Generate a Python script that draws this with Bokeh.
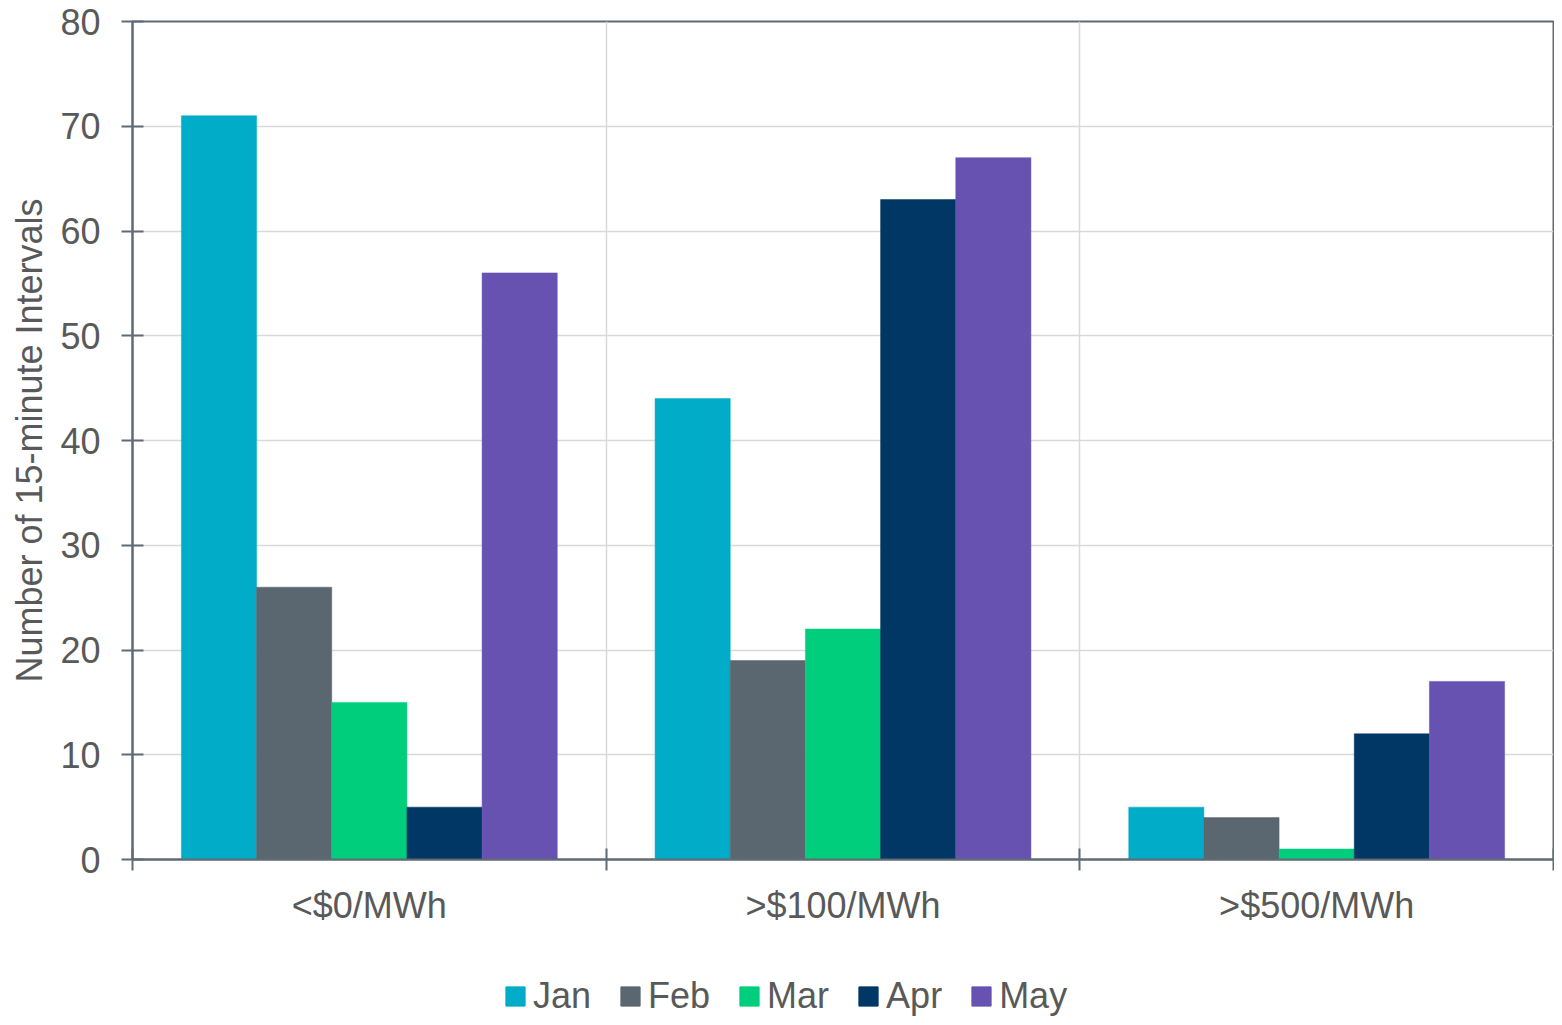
from bokeh.plotting import figure
from bokeh.layouts import column
from bokeh.models import Range1d, FixedTicker, Legend, LegendItem, ColumnDataSource
from bokeh.transform import dodge
from bokeh.embed import file_html
from bokeh.resources import INLINE

categories = ["<$0/MWh", ">$100/MWh", ">$500/MWh"]
months = ["Jan", "Feb", "Mar", "Apr", "May"]
jan = [71, 44, 5]
feb = [26, 19, 4]
mar = [15, 22, 1]
apr = [5, 63, 12]
may = [56, 67, 17]
y_ticks = [0, 10, 20, 30, 40, 50, 60, 70, 80]

colors = ["#00ACC8", "#5B6770", "#00CE7C", "#003764", "#6751B1"]
series = [jan, feb, mar, apr, may]

centers = [i + 0.5 for i in range(len(categories))]
data = {"x": centers}
for m, s in zip(months, series):
    data[m] = s
src = ColumnDataSource(data)

FONT = "Liberation Sans"
TXT = "#595959"
AX = "#5f6b75"

W = 1554
H_MAIN = 940
H_LEG = 77

p = figure(width=W, height=H_MAIN, x_range=Range1d(0, 3), y_range=Range1d(0, 80),
           output_backend="svg", toolbar_location=None,
           min_border_left=132, min_border_right=1, min_border_top=21, min_border_bottom=81)
p.background_fill_color = "white"
p.border_fill_color = "white"
p.outline_line_color = AX
p.outline_line_width = 2

bw = 0.1587
for j, (m, c) in enumerate(zip(months, colors)):
    p.vbar(x=dodge("x", (j - 2) * bw, range=p.x_range), top=m, width=bw, bottom=0,
           source=src, fill_color=c, line_color=c, line_width=0.5)

# y axis
ya = p.yaxis[0]
ya.ticker = FixedTicker(ticks=y_ticks)
ya.major_tick_in = 11
ya.major_tick_out = 11
ya.minor_tick_in = 0
ya.minor_tick_out = 0
ya.axis_line_color = AX
ya.axis_line_width = 2
ya.major_tick_line_color = AX
ya.major_tick_line_width = 2
ya.major_label_text_font = FONT
ya.major_label_text_font_size = "36px"
ya.major_label_text_color = TXT
ya.major_label_standoff = 21
ya.axis_label = "Number of 15-minute Intervals"
ya.axis_label_text_font = FONT
ya.axis_label_text_font_size = "36px"
ya.axis_label_text_font_style = "normal"
ya.axis_label_text_color = TXT
ya.axis_label_standoff = 7

# x axis
xa = p.xaxis[0]
xa.ticker = FixedTicker(ticks=centers, minor_ticks=[0, 1, 2, 3])
xa.major_label_overrides = {c: lab for c, lab in zip(centers, categories)}
xa.major_tick_in = 0
xa.major_tick_out = 0
xa.minor_tick_in = 11
xa.minor_tick_out = 11
xa.minor_tick_line_color = AX
xa.minor_tick_line_width = 2
xa.axis_line_color = AX
xa.axis_line_width = 2
xa.major_label_text_font = FONT
xa.major_label_text_font_size = "36px"
xa.major_label_text_color = TXT
xa.major_label_standoff = 14

# grids
p.xgrid.ticker = FixedTicker(ticks=[1, 2])
p.xgrid.grid_line_color = "#d9d9d9"
p.xgrid.grid_line_width = 1.5
p.ygrid.grid_line_color = "#d9d9d9"
p.ygrid.grid_line_width = 1.5

# legend strip
lg = figure(width=W, height=H_LEG, x_range=Range1d(0, 10), y_range=Range1d(0, 10),
            output_backend="svg", toolbar_location=None, x_axis_type=None, y_axis_type=None,
            min_border_left=0, min_border_right=0, min_border_top=0, min_border_bottom=0)
lg.outline_line_color = None
lg.grid.visible = False
lg.background_fill_color = "white"
lg.border_fill_color = "white"
dummy = ColumnDataSource(dict(x=[-100], top=[0]))
items = []
for m, c in zip(months, colors):
    r = lg.vbar(x="x", top="top", width=1, source=dummy, fill_color=c, line_color=c)
    items.append(LegendItem(label=m, renderers=[r]))
legend = Legend(items=items, orientation="horizontal", location=(371, 0),
                label_text_font=FONT, label_text_font_size="36px", label_text_color=TXT,
                glyph_width=24, glyph_height=24, label_standoff=6, spacing=27,
                padding=0, margin=0, border_line_color=None, background_fill_alpha=0)
lg.add_layout(legend)

layout = column(p, lg, spacing=0)
open("out.html", "w").write(file_html(layout, INLINE))
